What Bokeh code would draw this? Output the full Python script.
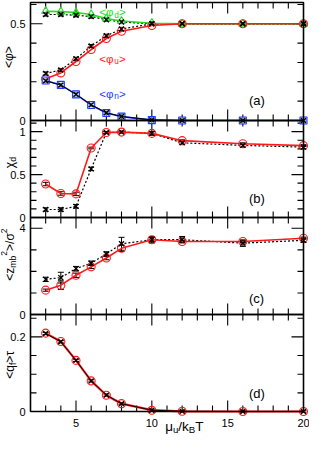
import math
from bokeh.plotting import figure
from bokeh.models import (Range1d, Label, Whisker, TeeHead, ColumnDataSource, BoxAnnotation)
from bokeh.embed import file_html
from bokeh.resources import INLINE

FONT = "Liberation Sans"

# ---------------- data ----------------
mu = [3, 4, 5, 6, 7, 8, 10, 12, 16, 20]

phi_d = [0.565, 0.563, 0.558, 0.548, 0.527, 0.514, 0.503, 0.500, 0.500, 0.500]
phi_d_k = [0.548, 0.548, 0.544, 0.537, 0.521, 0.509, 0.500, 0.500, 0.500, 0.500]
phi_u = [0.216, 0.246, 0.305, 0.367, 0.424, 0.461, 0.491, 0.500, 0.500, 0.500]
phi_u_k = [0.243, 0.261, 0.319, 0.385, 0.438, 0.473, 0.500, 0.500, 0.500, 0.500]
phi_n = [0.207, 0.184, 0.135, 0.080, 0.039, 0.020, 0.002, 0.000, 0.000, 0.000]
phi_n_k = [0.205, 0.183, 0.135, 0.081, 0.040, 0.021, 0.003, 0.000, 0.000, 0.000]
phi_err_k = [0.008, 0.008, 0.008, 0.008, 0.008, 0.008, 0.006, 0.004, 0.004, 0.004]

chi_d = [0.39, 0.28, 0.275, 0.81, 0.99, 0.995, 0.98, 0.895, 0.86, 0.837]
chi_d_err = [0.02, 0.02, 0.02, 0.01, 0.01, 0.01, 0.02, 0.01, 0.01, 0.01]
chi_d_k = [0.093, 0.093, 0.13, 0.566, 0.99, 0.995, 0.98, 0.87, 0.84, 0.82]
chi_d_k_err = [0.02, 0.02, 0.02, 0.02, 0.01, 0.01, 0.02, 0.02, 0.02, 0.02]

zmb2 = [1.13, 1.36, 1.82, 2.21, 2.62, 3.07, 3.47, 3.39, 3.39, 3.54]
zmb2_err = [0.05, 0.2, 0.1, 0.08, 0.08, 0.15, 0.1, 0.05, 0.05, 0.05]
zmb2_k = [1.63, 1.71, 2.13, 2.38, 2.81, 3.28, 3.47, 3.47, 3.31, 3.44]
zmb2_k_err = [0.1, 0.25, 0.1, 0.1, 0.1, 0.3, 0.15, 0.15, 0.15, 0.1]

qf = [0.210, 0.1875, 0.137, 0.082, 0.0435, 0.021, 0.0035, 0.0005, 0.0, 0.0]
qf_k = [0.209, 0.187, 0.137, 0.082, 0.044, 0.021, 0.0035, 0.0005, 0.0, 0.0]
qf_err_k = [0.003, 0.003, 0.003, 0.003, 0.003, 0.003, 0.002, 0.002, 0.002, 0.002]

x_major = [5, 10, 15, 20]
x_major_labels = ["5", "10", "15", "20"]
x_minor = [3, 4, 6, 7, 8, 9, 11, 12, 13, 14, 16, 17, 18, 19]

a_major = [0.0, 0.5]
a_labels = ["0", "0.5"]
a_minor = [0.1, 0.2, 0.3, 0.4, 0.6]
b_major = [0.0, 0.5, 1.0]
b_labels = ["0", "0.5", "1"]
b_minor = [0.1, 0.2, 0.3, 0.4, 0.6, 0.7, 0.8, 0.9, 1.1]
c_major = [0.0, 4.0]
c_labels = ["0", "4"]
c_minor = [1.0, 2.0, 3.0]
d_major = [0.0, 0.2]
d_labels = ["0", "0.2"]
d_minor = [0.05, 0.1, 0.15, 0.25]

# ---------------- layout ----------------
W, H = 309, 436
BL, BR, BT, BB = 30, 6, 2, 25
X0, X1 = 2, 20
XS = (W - BL - BR) / (X1 - X0)   # px per x unit

panels = {
    "a": dict(lo=0.0, hi=0.61, band=118, major=a_major, labels=a_labels, minor=a_minor),
    "b": dict(lo=0.0, hi=1.13, band=97, major=b_major, labels=b_labels, minor=b_minor),
    "c": dict(lo=0.0, hi=4.5, band=97, major=c_major, labels=c_labels, minor=c_minor),
    "d": dict(lo=0.0, hi=0.26, band=97, major=d_major, labels=d_labels, minor=d_minor),
}
order = ["a", "b", "c", "d"]
bottom = BB
for k in reversed(order):
    pn = panels[k]
    pn["bottom"] = bottom
    pn["s"] = pn["band"] / (pn["hi"] - pn["lo"])
    bottom += pn["band"]

p = figure(width=W, height=H,
           x_range=Range1d(X0 - BL / XS, X1 + BR / XS), y_range=Range1d(0, H),
           output_backend="svg", toolbar_location=None,
           x_axis_location=None, y_axis_location=None,
           min_border_left=0, min_border_right=0, min_border_top=0, min_border_bottom=0)
p.outline_line_color = None
p.background_fill_color = "white"
p.border_fill_color = "white"
p.grid.visible = False

for k in order:
    pn = panels[k]
    start = pn["lo"] - pn["bottom"] / pn["s"]
    p.extra_y_ranges[k] = Range1d(start, start + H / pn["s"])

# ---------------- frames, ticks, tick labels ----------------
MAJ, MIN = 11, 6
for k in order:
    pn = panels[k]
    lo, hi, s = pn["lo"], pn["hi"], pn["s"]
    p.add_layout(BoxAnnotation(left=X0, right=X1, bottom=lo, top=hi, y_range_name=k,
                               fill_color=None, fill_alpha=0, line_color="black",
                               line_width=1.6, line_alpha=1))
    x0s, y0s, x1s, y1s = [], [], [], []
    for xt in x_major[:-1] + x_minor:
        L = MAJ if xt in x_major else MIN
        x0s += [xt, xt]
        x1s += [xt, xt]
        y0s += [lo, hi]
        y1s += [lo + L / s, hi - L / s]
    for yv in pn["major"] + pn["minor"]:
        L = MAJ + 1 if yv in pn["major"] else MIN
        x0s += [X0, X1]
        x1s += [X0 + L / XS, X1 - L / XS]
        y0s += [yv, yv]
        y1s += [yv, yv]
    p.segment(x0s, y0s, x1s, y1s, line_color="black", line_width=1.1, y_range_name=k)
    for yv, lab in zip(pn["major"], pn["labels"]):
        p.add_layout(Label(x=X0, y=yv, x_offset=-5, text=lab, y_range_name=k,
                           text_font=FONT, text_font_size="11px", text_color="black",
                           text_align="right", text_baseline="middle"))

for xt, lab in zip(x_major, x_major_labels):
    p.add_layout(Label(x=xt, y=panels["d"]["lo"], y_offset=-7, text=lab, y_range_name="d",
                       text_font=FONT, text_font_size="11px", text_color="black",
                       text_align="center", text_baseline="top"))

RED, GREEN, BLUE = "#ff1a1a", "#22dd22", "#1a3cff"


def whisk(k, x, y, e, color):
    src = ColumnDataSource(dict(x=x, lo=[a - b for a, b in zip(y, e)], hi=[a + b for a, b in zip(y, e)]))
    p.add_layout(Whisker(source=src, base="x", lower="lo", upper="hi", dimension="height",
                         y_range_name=k, line_color=color, line_width=1,
                         upper_head=TeeHead(size=6, line_color=color, line_width=1),
                         lower_head=TeeHead(size=6, line_color=color, line_width=1)))


def black_line(k, y, solid=False):
    p.line(mu, y, line_color="black", line_width=1.2 if not solid else 1.0,
           line_dash="solid" if solid else "2 2", y_range_name=k)


def black_markers(k, y, e):
    p.scatter(mu, y, marker="x", size=7, line_color="black", line_width=1.3, y_range_name=k)
    whisk(k, mu, y, e, "black")


# panel a
black_line("a", phi_d_k)
black_line("a", phi_u_k)
p.line(mu, phi_d, line_color=GREEN, line_width=1.6, y_range_name="a")
p.line(mu, phi_u, line_color=RED, line_width=1.6, y_range_name="a")
p.line(mu, phi_n, line_color=BLUE, line_width=1.6, y_range_name="a")
p.scatter(mu, phi_d, marker="triangle", size=8, fill_color=None, line_color=GREEN, line_width=1.1, y_range_name="a")
p.scatter(mu, phi_u, marker="circle", size=8, fill_color=None, line_color=RED, line_width=1.1, y_range_name="a")
p.scatter(mu, phi_n, marker="square", size=7, fill_color="#c8d0ff", fill_alpha=0.5, line_color=BLUE, line_width=1.1, y_range_name="a")
black_line("a", phi_n_k, solid=True)
black_markers("a", phi_d_k, phi_err_k)
black_markers("a", phi_u_k, phi_err_k)
black_markers("a", phi_n_k, phi_err_k)

# panel b
black_line("b", chi_d_k)
p.line(mu, chi_d, line_color=RED, line_width=1.6, y_range_name="b")
p.scatter(mu, chi_d, marker="circle", size=8, fill_color=None, line_color=RED, line_width=1.1, y_range_name="b")
whisk("b", mu, chi_d, chi_d_err, "black")
black_markers("b", chi_d_k, chi_d_k_err)

# panel c
black_line("c", zmb2_k)
p.line(mu, zmb2, line_color=RED, line_width=1.6, y_range_name="c")
p.scatter(mu, zmb2, marker="circle", size=8, fill_color=None, line_color=RED, line_width=1.1, y_range_name="c")
whisk("c", mu, zmb2, zmb2_err, "black")
black_markers("c", zmb2_k, zmb2_k_err)

# panel d
p.line(mu, qf, line_color=RED, line_width=2.2, y_range_name="d")
p.scatter(mu, qf, marker="circle", size=8, fill_color=None, line_color=RED, line_width=1.1, y_range_name="d")
black_line("d", qf_k, solid=True)
black_markers("d", qf_k, qf_err_k)

# ---------------- texts ----------------
WID = {'<': 0.584, '>': 0.584, 'φ': 0.72, 'χ': 0.53, 'σ': 0.62, 'τ': 0.45, 'μ': 0.576,
       'z': 0.5, 'm': 0.833, 'b': 0.556, '/': 0.278, '2': 0.556, 'q': 0.556, 'f': 0.278,
       'd': 0.556, 'u': 0.556, 'n': 0.556, 'k': 0.5, 'B': 0.667, 'T': 0.611}


def tw(s, fs):
    return sum(WID.get(c, 0.556) for c in s) * fs


def rich(x, y, parts, rng="default", color="black", fs=12, rotate=False, align="left",
         xoff=0.0, yoff=0.0, subshift=0.25):
    pieces, adv = [], 0.0
    for t, kind in parts:
        f = fs if kind == "n" else fs * 0.72
        shift = 0.0 if kind == "n" else (-subshift * fs if kind == "sub" else 0.42 * fs)
        pieces.append((t, f, shift, adv))
        adv += tw(t, f)
    start = -adv / 2 if align == "center" else 0.0
    for t, f, shift, a in pieces:
        if rotate:
            dx, dy = -shift, start + a
        else:
            dx, dy = start + a, shift
        p.add_layout(Label(x=x, y=y, x_offset=xoff + dx, y_offset=yoff + dy, text=t,
                           angle=math.pi / 2 if rotate else 0.0,
                           text_font=FONT, text_font_size=f"{f:.1f}px", text_color=color,
                           text_align="left", text_baseline="alphabetic",
                           y_range_name=rng))


# y-axis titles
rich(X0, 0.33, [("<φ>", "n")], rng="a", rotate=True, align="center", xoff=-22)
rich(X0, 0.64, [("χ", "n"), ("d", "sub")], rng="b", rotate=True, align="center", xoff=-21)
rich(X0, 2.78, [("<z", "n"), ("mb", "sub"), ("2", "sup"), (">/σ", "n"), ("2", "sup")],
     rng="c", rotate=True, align="center", xoff=-21)
rich(X0, 0.126, [("<q", "n"), ("f", "sub"), (">τ", "n")], rng="d", rotate=True, align="center", xoff=-21)

# x-axis title
rich(10.88, panels["d"]["lo"], [("μ", "n"), ("u", "sub"), ("/k", "n"), ("B", "sub"), ("T", "n")],
     rng="d", fs=13.5, yoff=-15, subshift=0.22)

# series labels
rich(6.54, 0.56, [("<φ", "n"), ("d", "sub"), (">", "n")], rng="a", color=GREEN, fs=11.5)
rich(6.54, 0.32, [("<φ", "n"), ("u", "sub"), (">", "n")], rng="a", color=RED, fs=11.5)
rich(6.54, 0.139, [("<φ", "n"), ("n", "sub"), (">", "n")], rng="a", color=BLUE, fs=11.5)

# panel tags
for k, tag, yv in [("a", "(a)", 0.103), ("b", "(b)", 0.22), ("c", "(c)", 0.73), ("d", "(d)", 0.049)]:
    p.add_layout(Label(x=16.4, y=yv, text=tag, y_range_name=k, text_font=FONT,
                       text_font_size="13px", text_color="black",
                       text_align="left", text_baseline="alphabetic"))

open("out.html", "w").write(file_html(p, INLINE))
